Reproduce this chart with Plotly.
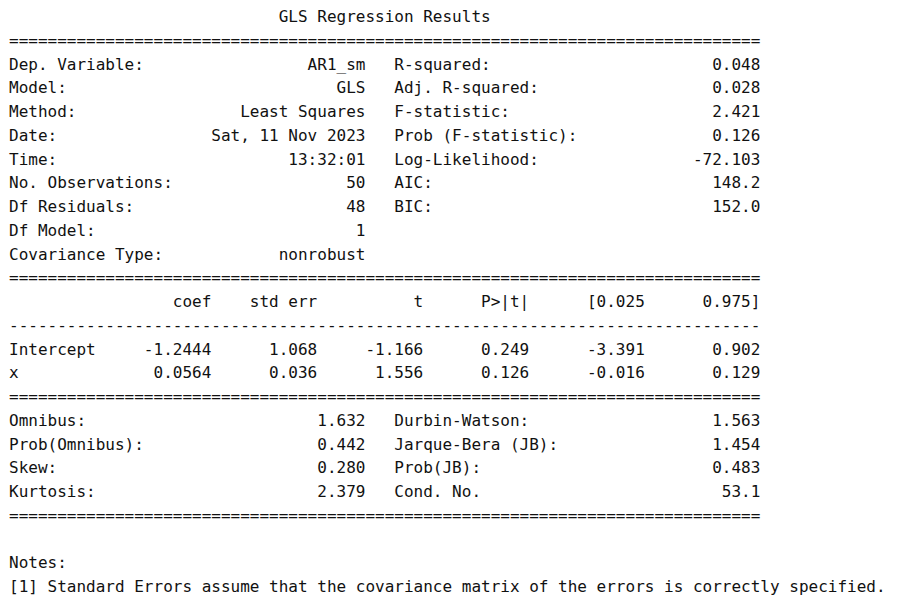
import plotly.graph_objects as go

# summary text is laid out on a fixed-width grid, like statsmodels prints it
WIDTH = 78

title = "GLS Regression Results"

top_left_labels = ["Dep. Variable:", "Model:", "Method:", "Date:", "Time:",
                   "No. Observations:", "Df Residuals:", "Df Model:", "Covariance Type:"]
top_left_values = ["AR1_sm", "GLS", "Least Squares", "Sat, 11 Nov 2023", "13:32:01",
                   "50", "48", "1", "nonrobust"]
top_right_labels = ["R-squared:", "Adj. R-squared:", "F-statistic:", "Prob (F-statistic):",
                    "Log-Likelihood:", "AIC:", "BIC:", "", ""]
top_right_values = ["0.048", "0.028", "2.421", "0.126", "-72.103", "148.2", "152.0", "", ""]

coef_columns = ["coef", "std err", "t", "P>|t|", "[0.025", "0.975]"]
coef_names = ["Intercept", "x"]
coef = [-1.2444, 0.0564]
std_err = [1.068, 0.036]
t_values = [-1.166, 1.556]
p_values = [0.249, 0.126]
ci_low = [-3.391, -0.016]
ci_high = [0.902, 0.129]

diag_left_labels = ["Omnibus:", "Prob(Omnibus):", "Skew:", "Kurtosis:"]
diag_left_values = ["1.632", "0.442", "0.280", "2.379"]
diag_right_labels = ["Durbin-Watson:", "Jarque-Bera (JB):", "Prob(JB):", "Cond. No."]
diag_right_values = ["1.563", "1.454", "0.483", "53.1"]

notes = ["Notes:",
         "[1] Standard Errors assume that the covariance matrix of the errors is correctly specified."]


def two_col(ll, lv, rl, rv):
    left = ll + lv.rjust(37 - len(ll))
    right = (rl + rv.rjust(38 - len(rl))) if rl else ""
    return (left + "   " + right).rstrip()


lines = [title.center(WIDTH).rstrip(), "=" * WIDTH]
for row in zip(top_left_labels, top_left_values, top_right_labels, top_right_values):
    lines.append(two_col(*row))
lines.append("=" * WIDTH)

widths = [11, 11, 11, 12, 12]
header = " " * 10 + coef_columns[0].rjust(11)
for name, w in zip(coef_columns[1:], widths):
    header += name.rjust(w)
lines.append(header)
lines.append("-" * WIDTH)
for i, name in enumerate(coef_names):
    row = name.ljust(10) + f"{coef[i]:.4f}".rjust(11)
    for vals, w in zip([std_err, t_values, p_values, ci_low, ci_high], widths):
        row += f"{vals[i]:.3f}".rjust(w)
    lines.append(row)
lines.append("=" * WIDTH)
for row in zip(diag_left_labels, diag_left_values, diag_right_labels, diag_right_values):
    lines.append(two_col(*row))
lines.append("=" * WIDTH)
lines.append("")
lines.extend(notes)

# keep runs of spaces from collapsing in svg text
text = [ln.replace(" ", "\u00a0") for ln in lines]

fig = go.Figure(
    go.Scatter(
        x=[0] * len(text),
        y=list(range(len(text))),
        mode="text",
        text=text,
        textposition="middle right",
        textfont=dict(family="DejaVu Sans Mono", size=16, color="#111111"),
        cliponaxis=False,
        hoverinfo="skip",
    )
)

fig.update_layout(
    width=897,
    height=612,
    margin=dict(l=0, r=0, t=0, b=0),
    plot_bgcolor="white",
    paper_bgcolor="white",
    showlegend=False,
    xaxis=dict(range=[-1, 896], visible=False, fixedrange=True),
    yaxis=dict(range=[25.34, -0.424], visible=False, fixedrange=True),
)

fig.write_html("out.html")
